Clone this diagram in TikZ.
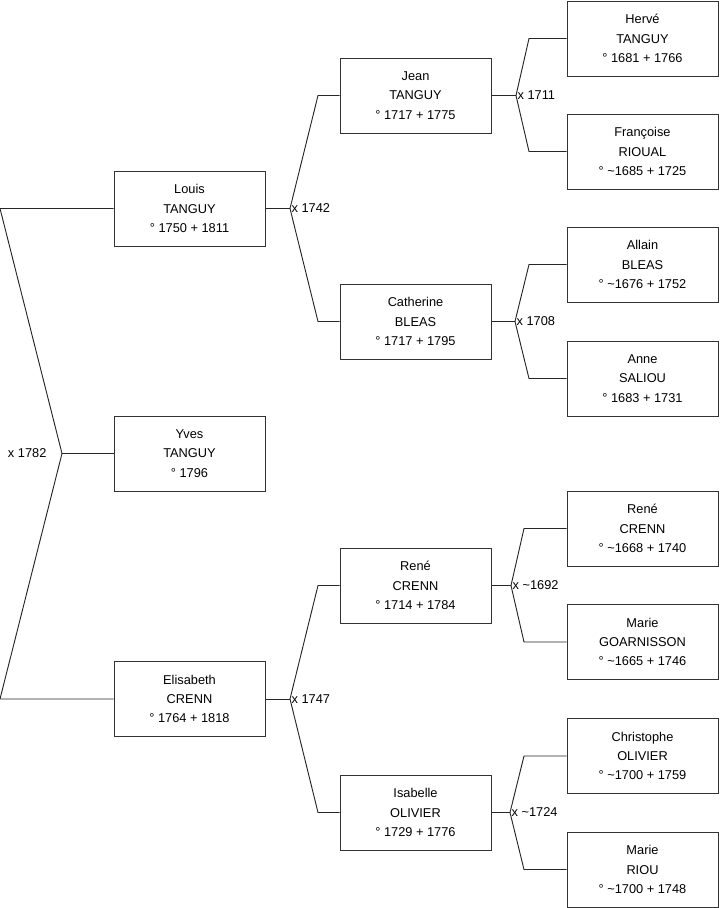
\documentclass[tikz,border=0pt]{standalone}
\usepackage{fontspec}
\setmainfont{Liberation Sans}
\begin{document}
\begin{tikzpicture}[x=0.75pt,y=-0.75pt,
  person/.style={draw=black!80, line width=0.75pt, rectangle, minimum width=113.25pt, minimum height=56.25pt,
    align=center, font=\fontsize{9.6pt}{14.4pt}\selectfont, inner sep=0pt, fill=white},
  link/.style={draw=black!85, line width=0.7pt},
  marr/.style={font=\fontsize{9.6pt}{11pt}\selectfont, inner sep=1pt}]
\useasboundingbox (0,0) rectangle (719,908);
% column 1
\node[person] (louis) at (189.5,208.5) {Louis\\TANGUY\\° 1750 + 1811};
\node[person] (yves) at (189.5,453.5) {Yves\\TANGUY\\° 1796};
\node[person] (elis) at (189.5,699) {Elisabeth\\CRENN\\° 1764 + 1818};
% column 2
\node[person] (jean) at (415.5,95.5) {Jean\\TANGUY\\° 1717 + 1775};
\node[person] (cath) at (415.5,321.5) {Catherine\\BLEAS\\° 1717 + 1795};
\node[person] (rene) at (415.5,585.5) {René\\CRENN\\° 1714 + 1784};
\node[person] (isab) at (415.5,812.5) {Isabelle\\OLIVIER\\° 1729 + 1776};
% column 3
\node[person] (herve) at (642.5,38.5) {Hervé\\TANGUY\\° 1681 + 1766};
\node[person] (franc) at (642.5,151.5) {Françoise\\RIOUAL\\° \textasciitilde1685 + 1725};
\node[person] (allain) at (642.5,264.5) {Allain\\BLEAS\\° \textasciitilde1676 + 1752};
\node[person] (anne) at (642.5,378.5) {Anne\\SALIOU\\° 1683 + 1731};
\node[person] (rene2) at (642.5,528.5) {René\\CRENN\\° \textasciitilde1668 + 1740};
\node[person] (marieg) at (642.5,642) {Marie\\GOARNISSON\\° \textasciitilde1665 + 1746};
\node[person] (chris) at (642.5,756) {Christophe\\OLIVIER\\° \textasciitilde1700 + 1759};
\node[person] (marier) at (642.5,869.5) {Marie\\RIOU\\° \textasciitilde1700 + 1748};
% junction coordinates
\coordinate (lt) at (0,208.5);
\coordinate (lb) at (0,699);
\coordinate (j0) at (62,453.5);
\coordinate (ja) at (290,208.5);
\coordinate (jb) at (290,699);
\coordinate (ka) at (318,0);
\coordinate (jc) at (516,95.5);
\coordinate (jd) at (515,321.5);
\coordinate (je) at (511,585.5);
\coordinate (jf) at (510,812.5);
\coordinate (kc) at (529,0);
\coordinate (ke) at (524,0);
% links
\draw[link] (louis.west) -- (lt) -- (j0) -- (lb) -- (elis.west);
\draw[link] (j0) -- (yves.west);
\node[marr, anchor=east] (m0) at (48,453.5) {x 1782};
\draw[link] (louis.east) -- (ja);
\draw[link] (jean.west) -- (jean.west -| ka) -- (ja) -- (cath.west -| ka) -- (cath.west);
\node[marr, anchor=west] (m1) at (ja) {x 1742};
\draw[link] (elis.east) -- (jb);
\draw[link] (rene.west) -- (rene.west -| ka) -- (jb) -- (isab.west -| ka) -- (isab.west);
\node[marr, anchor=west] (m2) at (jb) {x 1747};
\draw[link] (jean.east) -- (jc);
\draw[link] (herve.west) -- (herve.west -| kc) -- (jc) -- (franc.west -| kc) -- (franc.west);
\node[marr, anchor=west] (m3) at (jc) {x 1711};
\draw[link] (cath.east) -- (jd);
\draw[link] (allain.west) -- (allain.west -| kc) -- (jd) -- (anne.west -| kc) -- (anne.west);
\node[marr, anchor=west] (m4) at (jd) {x 1708};
\draw[link] (rene.east) -- (je);
\draw[link] (rene2.west) -- (rene2.west -| ke) -- (je) -- (marieg.west -| ke) -- (marieg.west);
\node[marr, anchor=west] (m5) at (je) {x \textasciitilde1692};
\draw[link] (isab.east) -- (jf);
\draw[link] (chris.west) -- (chris.west -| ke) -- (jf) -- (marier.west -| ke) -- (marier.west);
\node[marr, anchor=west] (m6) at (jf) {x \textasciitilde1724};
\end{tikzpicture}
\end{document}
